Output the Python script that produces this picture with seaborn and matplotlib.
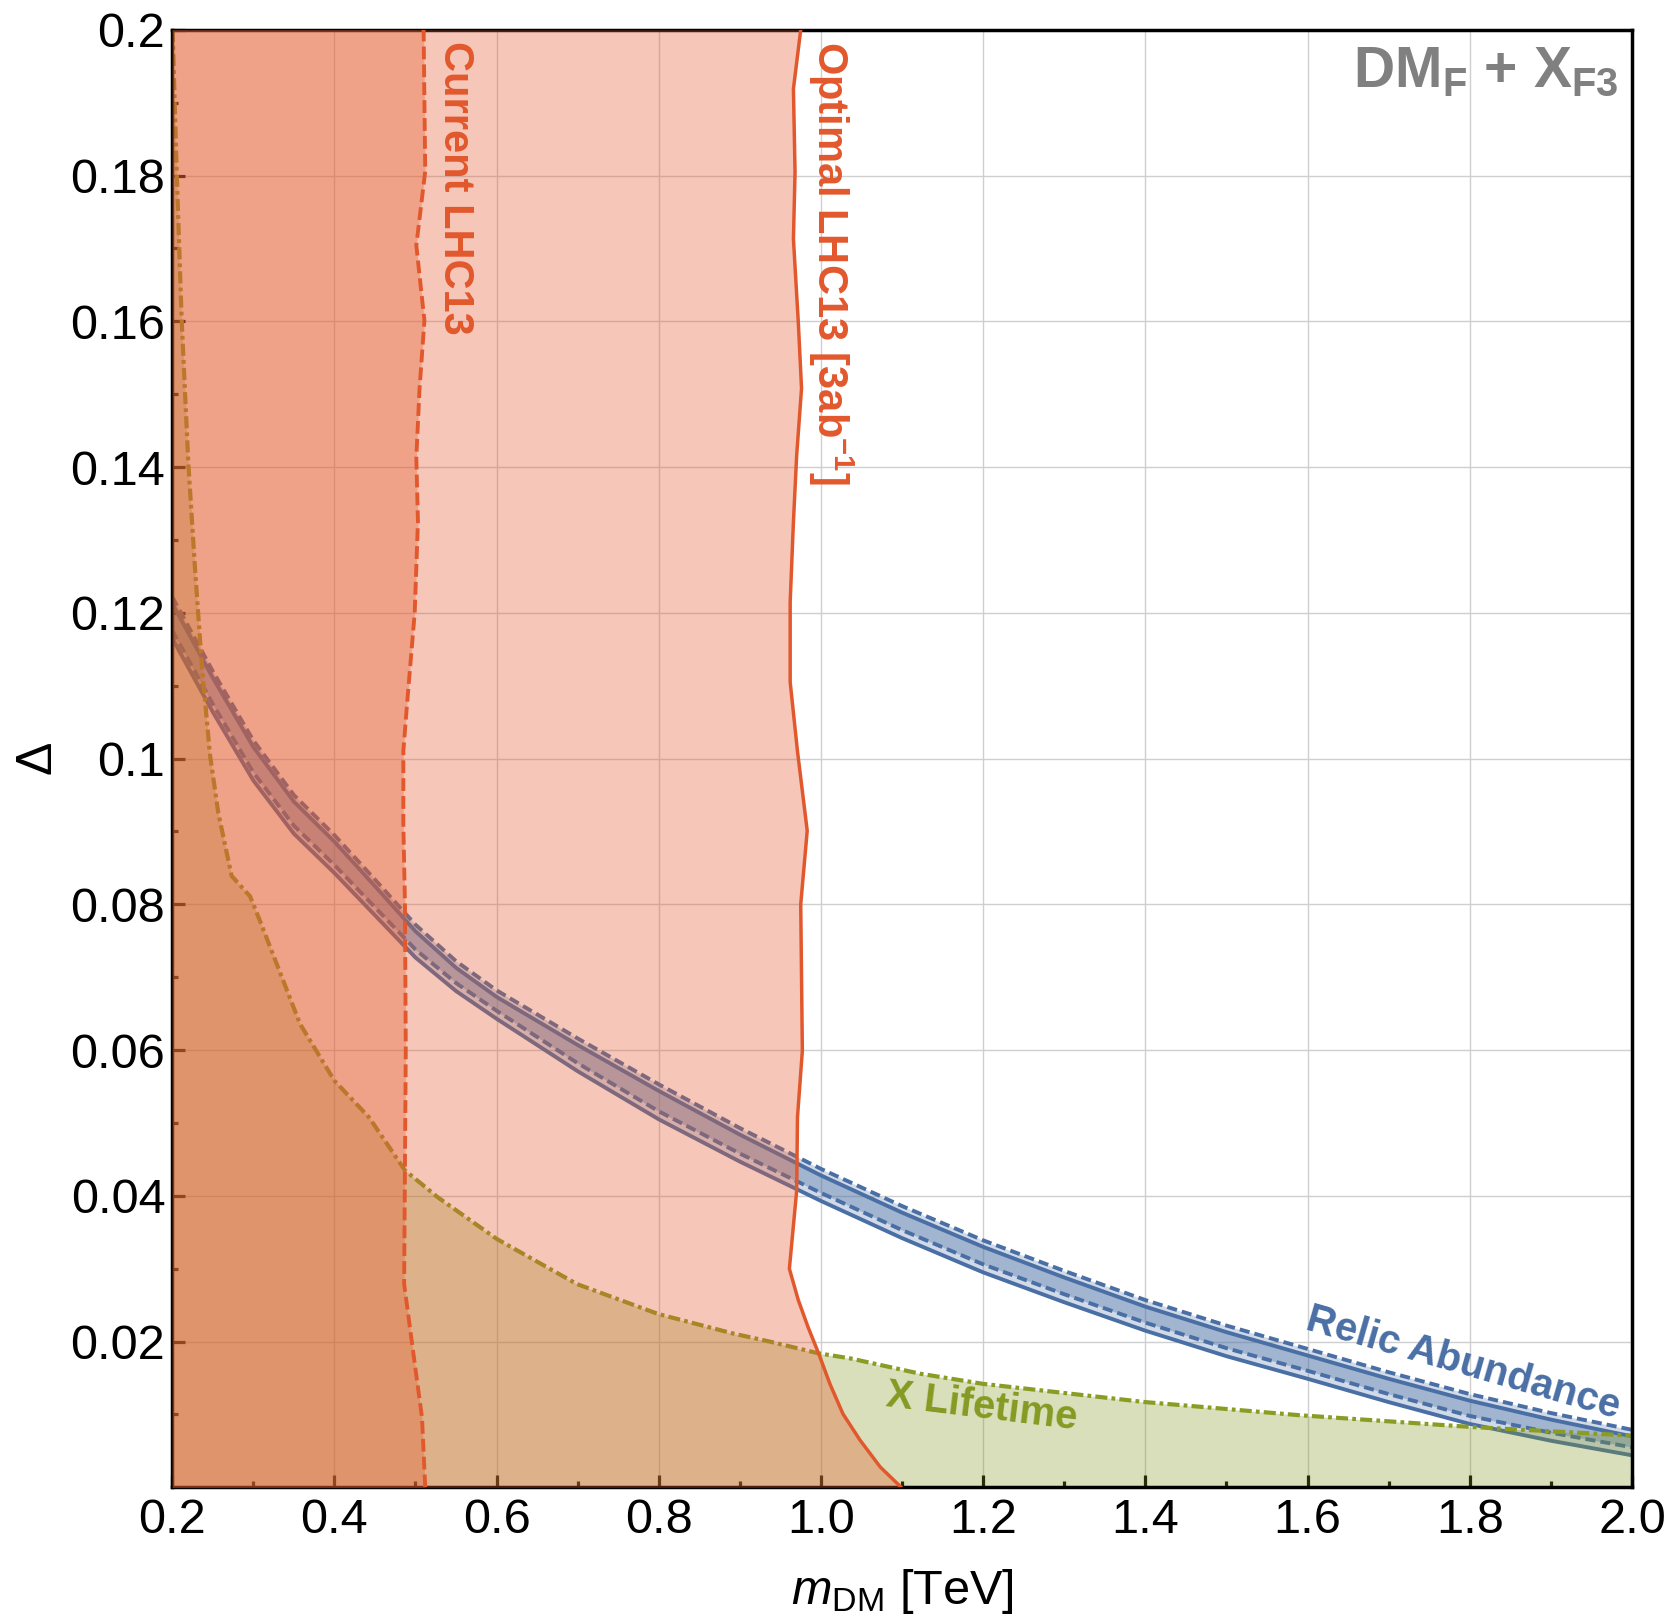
import matplotlib
matplotlib.use("Agg")
import matplotlib.pyplot as plt
import seaborn as sns

# ---- values (m_DM in TeV, Delta) ----

# X lifetime boundary, shaded below
life_x = [0.2005, 0.2055, 0.2117, 0.2199, 0.2280, 0.2364, 0.2466, 0.2569, 0.2733,
          0.2960, 0.3080, 0.3576, 0.4000, 0.4425, 0.4870, 0.5275, 0.6000, 0.6990,
          0.7990, 0.8920, 0.9370, 0.9966, 1.0360, 1.1220, 1.2000, 1.4000, 1.5900, 1.8000, 2.0000]
life_y = [0.2000, 0.1806, 0.1601, 0.1405, 0.1263, 0.1130, 0.1005, 0.0925, 0.0839,
          0.0811, 0.0778, 0.0636, 0.0558, 0.0508, 0.0435, 0.0398, 0.0341, 0.0279,
          0.0238, 0.0211, 0.0200, 0.0184, 0.0177, 0.0156, 0.0142, 0.0117, 0.0099, 0.0083, 0.0071]

# current LHC13 exclusion (dashed), shaded to the left
cur_y = [0.0, 0.0096, 0.0187, 0.0279, 0.0444, 0.0600, 0.0800, 0.0910, 0.1010, 0.1067,
         0.1200, 0.1325, 0.1413, 0.1508, 0.1601, 0.1704, 0.1806, 0.1900, 0.2000]
cur_x = [0.512, 0.508, 0.497, 0.486, 0.487, 0.488, 0.487, 0.485, 0.485, 0.489,
         0.499, 0.503, 0.501, 0.505, 0.511, 0.501, 0.512, 0.511, 0.510]

# optimal LHC13 [3 ab^-1] reach (solid), shaded to the left
opt_y = [0.0, 0.0028, 0.0065, 0.0101, 0.0142, 0.0184, 0.0220, 0.0257, 0.0300, 0.0407,
         0.0508, 0.0599, 0.0800, 0.0901, 0.1010, 0.1105, 0.1215, 0.1325, 0.1416, 0.1508,
         0.1599, 0.1713, 0.1805, 0.1919, 0.2000]
opt_x = [1.099, 1.073, 1.048, 1.027, 1.011, 0.997, 0.984, 0.972, 0.961, 0.970,
         0.971, 0.977, 0.975, 0.983, 0.971, 0.962, 0.962, 0.966, 0.970, 0.976,
         0.972, 0.966, 0.968, 0.966, 0.975]

# relic abundance band: outer dashed, inner solid, inner dashed, outer solid
relic_x = [0.2, 0.25, 0.3, 0.35, 0.4, 0.45, 0.5, 0.55, 0.6, 0.7, 0.8, 0.9, 1.0,
           1.1, 1.2, 1.3, 1.4, 1.5, 1.6, 1.7, 1.8, 1.9, 2.0]
relic_hi = [0.1222, 0.1120, 0.1025, 0.0950, 0.0895, 0.0834, 0.0772, 0.0722, 0.0682, 0.0616,
            0.0553, 0.0493, 0.0437, 0.0386, 0.0339, 0.0297, 0.0257, 0.0222, 0.0190, 0.0158,
            0.0128, 0.0102, 0.0079]
relic_hs = [0.1213, 0.1111, 0.1016, 0.0941, 0.0886, 0.0825, 0.0763, 0.0713, 0.0673, 0.0607,
            0.0544, 0.0484, 0.0428, 0.0377, 0.0330, 0.0288, 0.0248, 0.0213, 0.0181, 0.0149,
            0.0119, 0.0093, 0.0070]
relic_ld = [0.1176, 0.1075, 0.0981, 0.0908, 0.0854, 0.0796, 0.0738, 0.0692, 0.0654, 0.0582,
            0.0516, 0.0458, 0.0404, 0.0353, 0.0306, 0.0265, 0.0226, 0.0191, 0.0160, 0.0128,
            0.0098, 0.0075, 0.0055]
relic_lo = [0.1165, 0.1064, 0.0970, 0.0897, 0.0843, 0.0785, 0.0727, 0.0681, 0.0643, 0.0571,
            0.0505, 0.0447, 0.0393, 0.0342, 0.0295, 0.0254, 0.0215, 0.0180, 0.0149, 0.0117,
            0.0087, 0.0064, 0.0044]

x_ticks = [0.2, 0.4, 0.6, 0.8, 1.0, 1.2, 1.4, 1.6, 1.8, 2.0]
x_ticklabels = ["0.2", "0.4", "0.6", "0.8", "1.0", "1.2", "1.4", "1.6", "1.8", "2.0"]
x_minor = [0.3, 0.5, 0.7, 0.9, 1.1, 1.3, 1.5, 1.7, 1.9]
y_ticks = [0.02, 0.04, 0.06, 0.08, 0.1, 0.12, 0.14, 0.16, 0.18, 0.2]
y_ticklabels = ["0.02", "0.04", "0.06", "0.08", "0.1", "0.12", "0.14", "0.16", "0.18", "0.2"]
y_minor = [0.01, 0.03, 0.05, 0.07, 0.09, 0.11, 0.13, 0.15, 0.17, 0.19]

# colours
lhc_col = "#E2582D"
lhc_fill = (229 / 255, 91 / 255, 48 / 255)
relic_col = "#4A6FA5"
life_col = "#8A9C24"
life_fill = (130 / 255, 150 / 255, 30 / 255)

sns.set_theme(style="white")
plt.rcParams["font.family"] = ["Liberation Sans", "DejaVu Sans"]
plt.rcParams["mathtext.fontset"] = "custom"
plt.rcParams["mathtext.rm"] = "Liberation Sans"
plt.rcParams["mathtext.it"] = "Liberation Sans:italic"
plt.rcParams["mathtext.bf"] = "Liberation Sans:bold"

fig = plt.figure(figsize=(16.67, 16.19), dpi=100)
ax = fig.add_axes([0.1033, 0.0813, 0.8757, 0.9003])

# relic band (bottom layer)
ax.fill_between(relic_x, relic_lo, relic_hi, color=relic_col, alpha=0.25, lw=0, zorder=1)
ax.fill_between(relic_x, relic_ld, relic_hs, color=relic_col, alpha=0.35, lw=0, zorder=1)
relic_dash = (0, (2.6, 1.3))
for ys, ls in [(relic_hi, relic_dash), (relic_hs, "-"), (relic_ld, relic_dash), (relic_lo, "-")]:
    sns.lineplot(x=relic_x, y=ys, sort=False, estimator=None, color=relic_col, linewidth=2.8,
                 linestyle=ls, legend=False, ax=ax, zorder=1.5)

# X lifetime
ax.fill_between(life_x, 0, life_y, color=life_fill, alpha=0.3, lw=0, zorder=2)
sns.lineplot(x=life_x, y=life_y, sort=False, estimator=None, color=life_col, linewidth=3.0,
             linestyle=(0, (2.9, 1.0, 0.9, 1.0)), legend=False, ax=ax, zorder=2.5)

# LHC regions
ax.fill_betweenx(opt_y, 0.2, opt_x, color=lhc_fill, alpha=0.34, lw=0, zorder=3)
ax.fill_betweenx(cur_y, 0.2, cur_x, color=lhc_fill, alpha=0.34, lw=0, zorder=3)
sns.lineplot(x=opt_x, y=opt_y, sort=False, estimator=None, color=lhc_col, linewidth=2.5,
             legend=False, ax=ax, zorder=4)
sns.lineplot(x=cur_x, y=cur_y, sort=False, estimator=None, color=lhc_col, linewidth=2.8,
             linestyle=(0, (3.3, 1.3)), legend=False, ax=ax, zorder=4)

# labels inside the plot
ax.text(0.549, 0.1985, "Current LHC13", rotation=-90, ha="center", va="top",
        color=lhc_col, fontsize=30, fontweight="bold", zorder=5)
ax.text(1.012, 0.1985, r"Optimal LHC13 [3ab$^{\mathbf{-1}}$]", rotation=-90, ha="center", va="top",
        color=lhc_col, fontsize=30, fontweight="bold", zorder=5)
ax.text(1.198, 0.0110, "X Lifetime", rotation=-7, ha="center", va="center", rotation_mode="anchor",
        color="#859A22", fontsize=29, fontweight="bold", zorder=5)
ax.text(1.792, 0.0170, "Relic Abundance", rotation=-16, ha="center", va="center", rotation_mode="anchor",
        color=relic_col, fontsize=29, fontweight="bold", zorder=5)
ax.text(1.983, 0.1921, r"DM$_{\mathbf{F}}$ + X$_{\mathbf{F3}}$", ha="right", va="baseline",
        color="#808080", fontsize=41, fontweight="bold", zorder=5)

# axes styling
ax.set_xlim(0.2, 2.0)
ax.set_ylim(0.0, 0.2)
ax.set_xticks(x_ticks)
ax.set_xticklabels(x_ticklabels)
ax.set_xticks(x_minor, minor=True)
ax.set_yticks(y_ticks)
ax.set_yticklabels(y_ticklabels)
ax.set_yticks(y_minor, minor=True)
ax.tick_params(which="both", direction="in", top=False, right=False, bottom=True, left=True,
               color="black", width=2.3)
ax.tick_params(which="major", length=9, labelsize=35, labelcolor="black")
ax.tick_params(axis="x", which="major", pad=8)
ax.tick_params(axis="y", which="major", pad=5)
ax.tick_params(which="minor", length=4)
ax.grid(True, which="major", color="#CFCFCF", linewidth=1.0)
ax.set_axisbelow(True)
for sp in ax.spines.values():
    sp.set_visible(True)
    sp.set_color("black")
    sp.set_linewidth(2.5)

ax.set_xlabel(r"$m_{\mathrm{DM}}$ [TeV]", fontsize=35, color="black")
ax.xaxis.set_label_coords(0.5, -0.0711)
ax.xaxis.label.set_va("center")
ax.set_ylabel("Δ", fontsize=36, color="black")
ax.yaxis.set_label_coords(-0.0926, 0.501)
ax.yaxis.label.set_va("center")

fig.savefig("out.png", dpi=100)
